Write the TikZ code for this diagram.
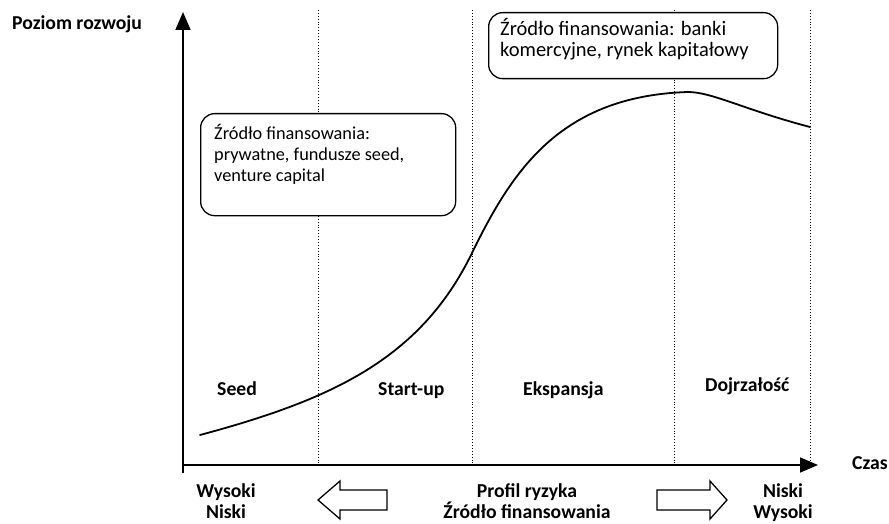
\documentclass[tikz,border=0pt]{standalone}
\usepackage{fontspec}
\setmainfont{Carlito}
\usetikzlibrary{arrows.meta}
\begin{document}
\begin{tikzpicture}[x=1pt,y=-1pt,
  lbl/.style={font=\fontsize{19.7}{22}\selectfont\bfseries, inner sep=0pt},
  boxtxt/.style={inner sep=0pt, align=left},
  roundbox/.style={draw, rounded corners=14pt, fill=white, line width=1.3pt, inner sep=0pt},
  axis/.style={line width=1.8pt, -{Triangle[length=18pt,width=15pt]}},
  phase/.style={dotted, line width=0.9pt},
  hollow/.style={draw, line width=1.3pt, fill=white, line join=miter}]
\useasboundingbox (0,0) rectangle (889,524);
% phase separators
\draw[phase] (318,10) -- (318,463);
\draw[phase] (472,10) -- (472,463);
\draw[phase] (674,10) -- (674,463);
\draw[phase] (810,10) -- (810,463);
% axes
\coordinate (o) at (183,465);
\coordinate (ybot) at (183,473);
\coordinate (ytop) at (183,12);
\coordinate (xend) at (818,465);
\draw[axis] (ybot) -- (ytop);
\draw[axis] (o) -- (xend);
\node[lbl, anchor=base west] (ylab) at (12,30) {Poziom rozwoju};
\node[lbl, anchor=base west] (xlab) at (852,469) {Czas};
% curve
\draw[line width=1.8pt, line cap=round]
  (200,435) .. controls (330,400) and (420,360) .. (472,253)
            .. controls (512,171) and (560,96) .. (688,92)
            .. controls (712,92) and (745,110) .. (810,127);
% boxes
\node[roundbox, anchor=north west, minimum width=255pt, minimum height=102pt] (box1) at (200,113) {};
\node[boxtxt, font=\fontsize{18.3}{21.5}\selectfont, anchor=base west] (t1) at (214,182) {Źródło finansowania:\\prywatne, fundusze seed,\\venture capital};
\node[roundbox, anchor=north west, minimum width=289pt, minimum height=66pt] (box2) at (488,12) {};
\node[boxtxt, font=\fontsize{20.5}{21}\selectfont, anchor=base west] (t2) at (500,57) {Źródło finansowania: banki\\komercyjne, rynek kapitałowy};
% phase labels
\node[lbl, anchor=base west] (seed) at (217,395) {Seed};
\node[lbl, anchor=base west] (start) at (378,395) {Start-up};
\node[lbl, anchor=base west] (eksp) at (523,395) {Ekspansja};
\node[lbl, anchor=base west] (dojr) at (705,391) {Dojrzałość};
% bottom
\node[lbl, anchor=base] (w1) at (226,497) {Wysoki};
\node[lbl, anchor=base] (n1) at (226,518) {Niski};
\node[lbl, anchor=base] (pr) at (527,497) {Profil ryzyka};
\node[lbl, anchor=base] (zf) at (527,518) {Źródło finansowania};
\node[lbl, anchor=base] (n2) at (783,497) {Niski};
\node[lbl, anchor=base] (w2) at (783,518) {Wysoki};
\draw[hollow] (318,500) -- (340,481) -- (340,490) -- (387,490) -- (387,510) -- (340,510) -- (340,519) -- cycle;
\draw[hollow] (727,500) -- (710,481) -- (710,490) -- (657,490) -- (657,510) -- (710,510) -- (710,519) -- cycle;
\end{tikzpicture}
\end{document}
